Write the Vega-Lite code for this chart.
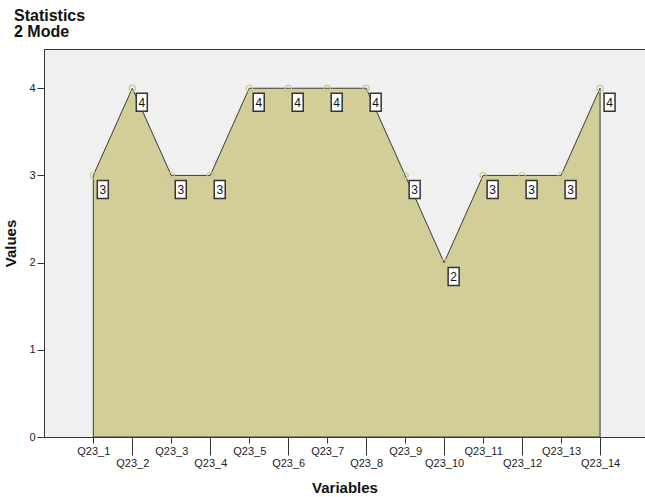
{
  "$schema": "https://vega.github.io/schema/vega-lite/v6.json",
  "width": 601,
  "height": 388,
  "autosize": {"type": "none"},
  "padding": {"left": 44, "top": 49, "right": 0, "bottom": 60},
  "background": "white",
  "config": {
    "view": {"fill": "#f0f0f0", "stroke": "#333333", "strokeWidth": 1},
    "font": "Liberation Sans"
  },
  "title": {
    "text": ["Statistics", "2 Mode"],
    "anchor": "start",
    "frame": "group",
    "fontSize": 16,
    "fontWeight": "bold",
    "font": "Liberation Sans",
    "color": "#111111",
    "lineHeight": 16,
    "dx": -30,
    "offset": 9
  },
  "data": {
    "values": [
      {"idx": 1, "variable": "Q23_1", "value": 3},
      {"idx": 2, "variable": "Q23_2", "value": 4},
      {"idx": 3, "variable": "Q23_3", "value": 3},
      {"idx": 4, "variable": "Q23_4", "value": 3},
      {"idx": 5, "variable": "Q23_5", "value": 4},
      {"idx": 6, "variable": "Q23_6", "value": 4},
      {"idx": 7, "variable": "Q23_7", "value": 4},
      {"idx": 8, "variable": "Q23_8", "value": 4},
      {"idx": 9, "variable": "Q23_9", "value": 3},
      {"idx": 10, "variable": "Q23_10", "value": 2},
      {"idx": 11, "variable": "Q23_11", "value": 3},
      {"idx": 12, "variable": "Q23_12", "value": 3},
      {"idx": 13, "variable": "Q23_13", "value": 3},
      {"idx": 14, "variable": "Q23_14", "value": 4}
    ]
  },
  "encoding": {
    "x": {
      "field": "idx",
      "type": "quantitative",
      "scale": {"domain": [-0.265, 15.153], "nice": false, "zero": false},
      "axis": {
        "title": "Variables",
        "titleFont": "Liberation Sans",
        "titleFontSize": 15,
        "titleFontWeight": "bold",
        "titleColor": "#111111",
        "titlePadding": 12,
        "values": [1, 2, 3, 4, 5, 6, 7, 8, 9, 10, 11, 12, 13, 14],
        "labelExpr": "'Q23_' + datum.value",
        "labelAngle": 0,
        "labelFont": "Liberation Sans",
        "labelFontSize": 11,
        "labelColor": "#222222",
        "labelOverlap": false,
        "labelFlush": false,
        "domainColor": "#333333",
        "tickColor": "#333333",
        "tickSize": {"condition": {"test": "datum.value % 2 == 0", "value": 18}, "value": 6},
        "labelPadding": 2,
        "grid": false
      }
    },
    "y": {
      "field": "value",
      "type": "quantitative",
      "scale": {"domain": [0, 4.45], "nice": false},
      "axis": {
        "values": [0, 1, 2, 3, 4],
        "title": "Values",
        "titleFont": "Liberation Sans",
        "titleFontSize": 15,
        "titleFontWeight": "bold",
        "titleColor": "#111111",
        "titlePadding": 10,
        "labelFont": "Liberation Sans",
        "labelFontSize": 11,
        "labelColor": "#222222",
        "labelPadding": 2,
        "tickSize": 7,
        "tickColor": "#333333",
        "domainColor": "#333333",
        "grid": false
      }
    }
  },
  "layer": [
    {
      "mark": {"type": "area", "color": "#d3ce98", "fillOpacity": 1, "stroke": "#3a3a3a", "strokeWidth": 1}
    },
    {
      "mark": {"type": "point", "shape": "circle", "filled": false, "color": "#cdc790", "size": 40, "strokeWidth": 1.2, "opacity": 1}
    },
    {
      "mark": {"type": "point", "shape": "M-0.611,-1H0.611V1H-0.611Z", "size": 324, "filled": true, "fill": "white", "stroke": "#333333", "strokeWidth": 1.5, "opacity": 1, "fillOpacity": 1, "xOffset": 9.5, "yOffset": 14}
    },
    {
      "mark": {"type": "text", "font": "Liberation Sans", "fontSize": 12, "color": "#111111", "align": "center", "baseline": "middle", "dx": 9.5, "dy": 14.5},
      "encoding": {"text": {"field": "value", "type": "quantitative"}}
    }
  ]
}
